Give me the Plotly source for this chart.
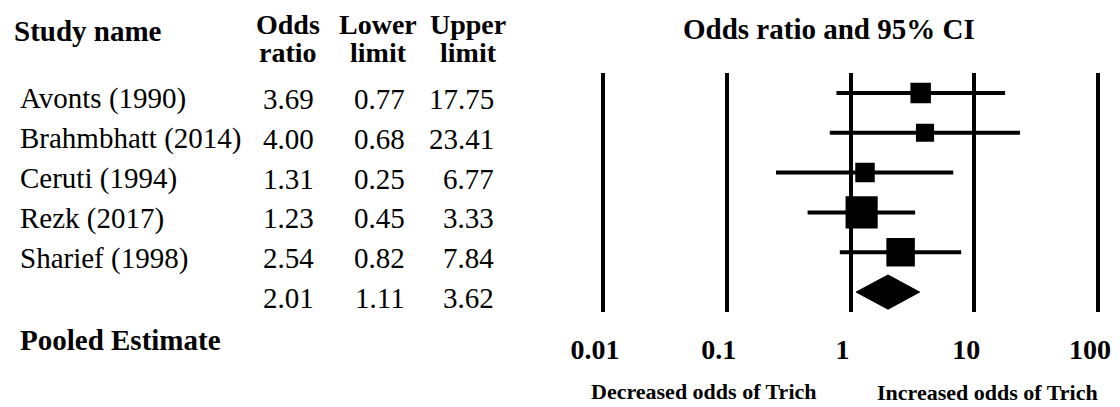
"""
Forest plot: odds ratio of Trich across studies, with pooled estimate.
"""
import numpy as np
import plotly.graph_objects as go

# Data
studies = ['Avonts (1990)', 'Brahmbhatt (2014)', 'Ceruti (1994)', 'Rezk (2017)', 'Sharief (1998)']
odds_ratio = [3.69, 4.00, 1.31, 1.23, 2.54]
lower_limit = [0.77, 0.68, 0.25, 0.45, 0.82]
upper_limit = [17.75, 23.41, 6.77, 3.33, 7.84]

pooled_or = 2.01
pooled_lower = 1.11
pooled_upper = 3.62

tick_vals = [0.01, 0.1, 1, 10, 100]
tick_text = ['0.01', '0.1', '1', '10', '100']

# Page is 1120x407; the browser's 8px body margin offsets the figure
PAGE_W, PAGE_H = 1120, 407
BODY = 8
W, H = PAGE_W - 2 * BODY, PAGE_H - BODY
FONT = 'Liberation Serif'
BLACK = '#000000'


def px_x(px):
    # page pixel -> paper x
    return (px - BODY) / W


def px_y(py):
    # page pixel -> paper y
    return 1 - (py - BODY) / H


# Square side grows with study weight (inverse variance of log OR)
se = (np.log(upper_limit) - np.log(lower_limit)) / 3.92
weight = 1 / se ** 2
square_px = 16.4 * np.sqrt(weight)

rows = list(range(len(studies)))
pooled_row = len(studies)

fig = go.Figure()

# Study squares with CI whiskers
fig.add_trace(go.Scatter(
    x=odds_ratio, y=rows, mode='markers',
    marker=dict(symbol='square', size=square_px, color=BLACK, opacity=1, line=dict(width=0)),
    error_x=dict(type='data', symmetric=False,
                 array=[u - o for u, o in zip(upper_limit, odds_ratio)],
                 arrayminus=[o - l for o, l in zip(odds_ratio, lower_limit)],
                 color=BLACK, thickness=4, width=0),
    showlegend=False, hoverinfo='skip',
))

# Pooled diamond
half_h = 0.43
fig.add_trace(go.Scatter(
    x=[pooled_lower, pooled_or, pooled_upper, pooled_or, pooled_lower],
    y=[pooled_row, pooled_row - half_h, pooled_row, pooled_row + half_h, pooled_row],
    mode='lines', fill='toself', fillcolor=BLACK, line=dict(color=BLACK, width=1),
    showlegend=False, hoverinfo='skip',
))

ann = []


def text(x, y, s, size=29, bold=False, xanchor='left', yref='paper', yshift=0):
    ann.append(dict(
        x=x, y=y, xref='paper', yref=yref, text=f'<b>{s}</b>' if bold else s,
        showarrow=False, xanchor=xanchor, yanchor='middle', yshift=yshift,
        font=dict(family=FONT, size=size, color=BLACK),
    ))


# Table headers
text(px_x(12), px_y(31), 'Study name', bold=True)
for cx, top, bottom in [(288, 'Odds', 'ratio'), (378, 'Lower', 'limit'), (468, 'Upper', 'limit')]:
    text(px_x(cx), px_y(25), top, size=28, bold=True, xanchor='center')
    text(px_x(cx), px_y(53), bottom, size=28, bold=True, xanchor='center')

# Table rows
col_right = [316, 407, 496]
for r, name in enumerate(studies):
    text(px_x(18), r, name, yref='y', yshift=-6)
    for cx, v in zip(col_right, [odds_ratio[r], lower_limit[r], upper_limit[r]]):
        text(px_x(cx), r, f'{v:.2f}', yref='y', yshift=-6, xanchor='right')
for cx, v in zip(col_right, [pooled_or, pooled_lower, pooled_upper]):
    text(px_x(cx), pooled_row, f'{v:.2f}', yref='y', yshift=-6, xanchor='right')
text(px_x(18), px_y(340), 'Pooled Estimate', bold=True)

# Plot title and direction labels
text(px_x(829), px_y(29), 'Odds ratio and 95% CI', bold=True, xanchor='center')
text(px_x(704), px_y(391), 'Decreased odds of Trich', size=22, bold=True, xanchor='center')
text(px_x(988), px_y(392), 'Increased odds of Trich', size=22, bold=True, xanchor='center')

# Axis geometry: decades at 603 .. 1098 px, rows from 73 to 312 px
dec = (1098 - 603) / 4
pad = 0.05
fig.update_layout(
    width=W, height=H, margin=dict(l=0, r=0, t=0, b=0, autoexpand=False),
    paper_bgcolor='white', plot_bgcolor='white',
    annotations=ann,
    xaxis=dict(
        type='log', range=[-2 - pad, 2 + pad],
        domain=[px_x(603 - pad * dec), px_x(1098 + pad * dec)],
        tickvals=tick_vals, ticktext=tick_text, ticks='',
        showgrid=True, gridcolor=BLACK, gridwidth=4,
        zeroline=False, showline=False, automargin=False,
        tickfont=dict(family=FONT, size=28, color=BLACK, weight='bold'),
        ticklabelstandoff=18, ticklabelshift=-8,
    ),
    yaxis=dict(
        range=[pooled_row + 0.5, -0.5], domain=[px_y(312), px_y(73)],
        showgrid=False, zeroline=False, showline=False, showticklabels=False,
        automargin=False,
    ),
)

fig.write_html('out.html')
print('Saved: out.html')
